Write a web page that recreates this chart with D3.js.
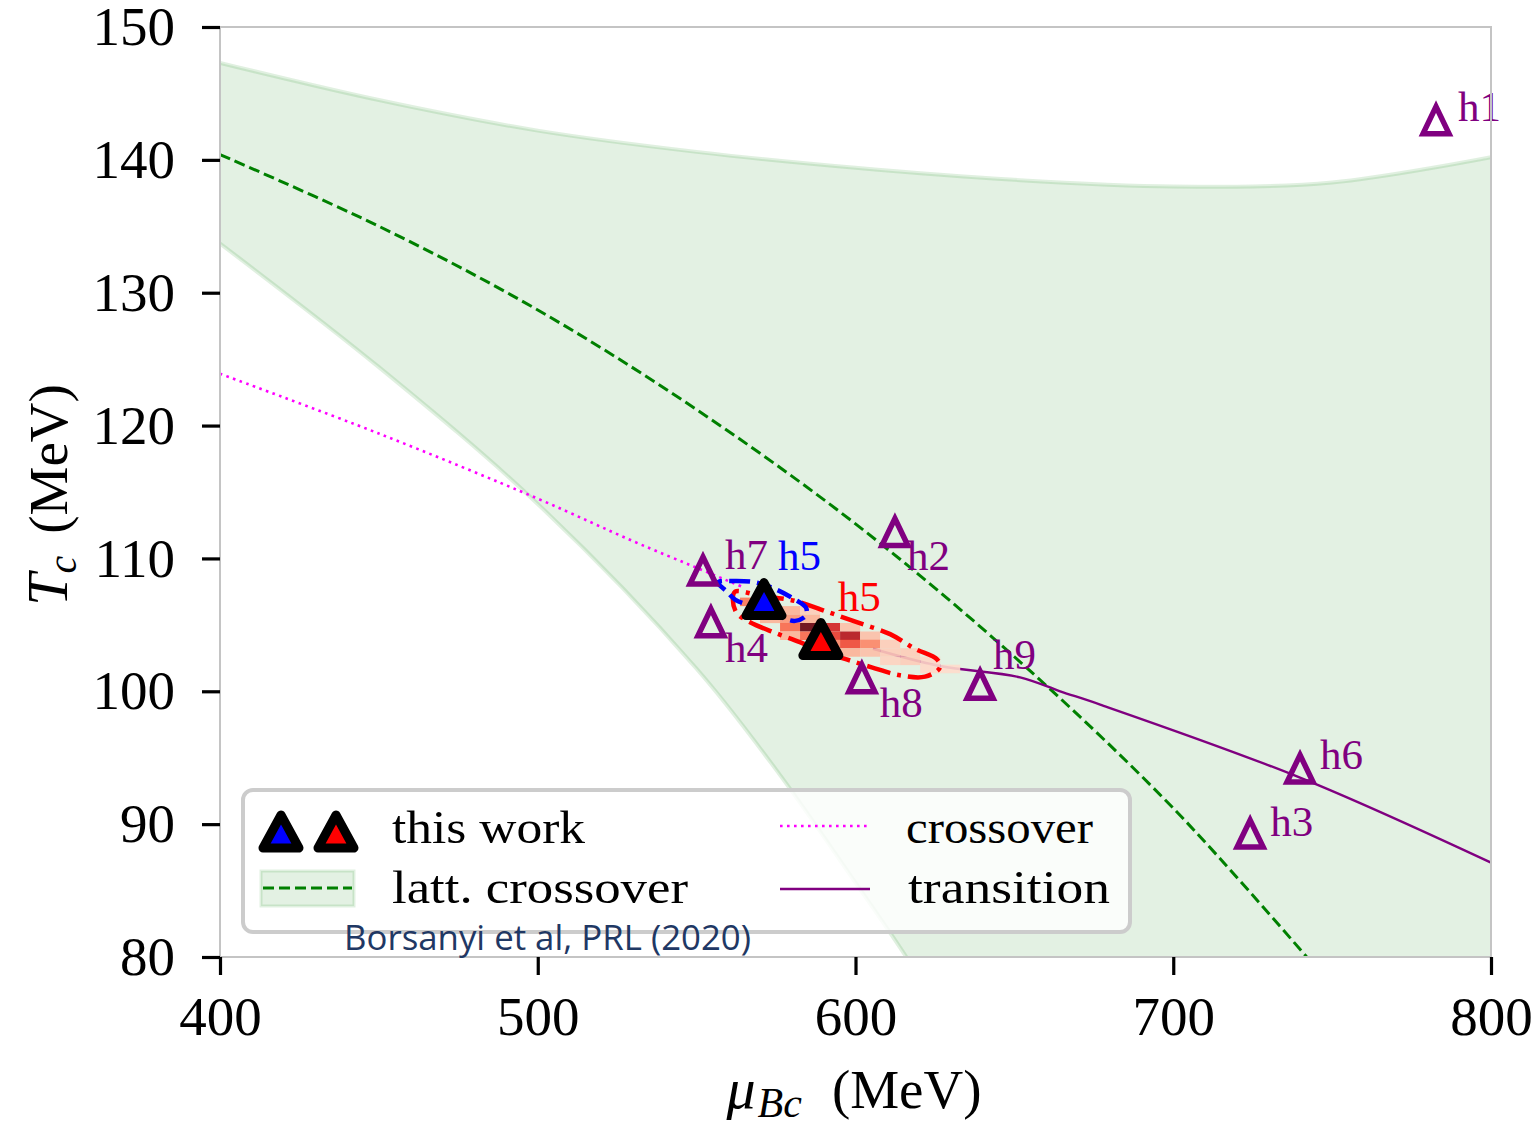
<!DOCTYPE html>
<html>
<head>
<meta charset="utf-8">
<script src="https://cdn.jsdelivr.net/npm/d3@7"></script>
<style>
  html, body { margin: 0; padding: 0; background: #fff; }
  svg { display: block; }
</style>
</head>
<body>
<svg id="chart" width="1539" height="1125"></svg>
<script>
// ---- data -------------------------------------------------------------
// lattice crossover band (upper and lower edges) and its central curve
const bandUpperMu = [400, 450, 500, 550, 600, 650, 700, 750, 800];
const bandUpperT  = [147.3, 144.5, 142.2, 140.6, 139.4, 138.5, 138.0, 138.3, 140.2];
const bandLowerMu = [400, 450, 500, 550, 575, 600, 616, 625];
const bandLowerT  = [133.7, 124.4, 114.1, 101.7, 94.1, 85.6, 80.0, 76.5];
const lattMu = [400, 450, 500, 550, 600, 650, 700, 742];
const lattT  = [140.4, 135.0, 128.7, 121.2, 112.6, 102.6, 91.2, 80.0];

// model crossover (dotted) and first-order transition (solid)
const crossMu = [400, 450, 500, 530, 550, 565];
const crossT  = [123.9, 119.4, 114.5, 111.3, 109.3, 107.8];
const transMu = [605.5, 626.6, 651.8, 664.4, 677, 739.9, 800];
const transT  = [103.2, 101.9, 101.05, 100.0, 99.0, 93.5, 87.1];

// other holographic models
const hNames = ["h1", "h2", "h3", "h4", "h6", "h7", "h8", "h9"];
const hMu    = [782.7, 612.4, 724.2, 554.5, 739.9, 552.0, 602.0, 639.2];
const hT     = [143.1, 112.1, 89.4, 105.3, 94.3, 109.2, 101.1, 100.6];

// this work: two critical points
const workNames  = ["h5", "h5"];
const workMu     = [571.2, 589.1];
const workT      = [106.9, 103.9];
const workColors = ["#0000ff", "#ff0000"];

// confidence contours around the two critical points
const blueContour = [[556.7,108.2],[562.1,108.3],[568.4,108.2],[574.7,107.7],[581.0,106.9],[584.4,106.3],
  [584.4,105.7],[581.0,105.3],[576.2,105.6],[571.5,106.0],[566.2,106.5],[562.1,106.9],[559.5,107.5]];
const redContour = [[562.1,107.5],[569.9,107.2],[581.0,106.8],[590.9,106.0],[600.4,105.2],[610.9,104.3],
  [618.7,103.2],[625.7,102.4],[626.6,101.8],[621.9,101.1],[614.0,101.2],[605.1,101.8],[597.2,102.4],
  [589.3,103.0],[582.5,103.7],[574.7,104.4],[566.8,105.2],[562.6,105.9],[561.4,106.9]];

// 2D density of critical-point samples: [muB, T, relative density]
const heatBinMu = 6.3, heatBinT = 0.64;
const heatCells = [
  [566.8,106.73,0.40],
  [573.1,106.09,0.15],[579.4,106.09,0.20],[585.7,106.09,0.10],
  [573.1,105.45,0.20],[579.4,105.45,0.30],[585.7,105.45,0.20],
  [579.4,104.82,0.45],[585.7,104.82,1.00],[592.0,104.82,0.70],[598.3,104.82,0.15],
  [579.4,104.18,0.20],[585.7,104.18,0.45],[592.0,104.18,0.60],[598.3,104.18,0.80],[604.6,104.18,0.15],
  [592.0,103.56,0.35],[598.3,103.56,0.55],[604.6,103.56,0.35],[610.9,103.56,0.10],
  [598.3,102.92,0.20],[604.6,102.92,0.15],[610.9,102.92,0.10],[617.2,102.92,0.10],
  [610.9,102.29,0.08],[617.2,102.29,0.10],[623.5,102.29,0.06],
  [623.5,101.68,0.05],[629.8,101.68,0.04]
];

const xTicks = [400, 500, 600, 700, 800];
const yTicks = [80, 90, 100, 110, 120, 130, 140, 150];

// ---- layout -----------------------------------------------------------
const serif = "'Liberation Serif', 'Times New Roman', serif";
const purple = "#800080";
const svg = d3.select("#chart");
const x = d3.scaleLinear().domain([400, 800]).range([220, 1491]);
const y = d3.scaleLinear().domain([80, 150]).range([957, 27]);
const zip = (a, b) => a.map((v, i) => [v, b[i]]);
const line = d3.line().x(d => x(d[0])).y(d => y(d[1])).curve(d3.curveCatmullRom.alpha(0.5));

svg.append("defs").append("clipPath").attr("id", "plotClip")
  .append("rect").attr("x", x(400)).attr("y", y(150))
  .attr("width", x(800) - x(400)).attr("height", y(80) - y(150));

const plot = svg.append("g").attr("clip-path", "url(#plotClip)");

// band
const upper = zip(bandUpperMu, bandUpperT);
const lower = zip(bandLowerMu, bandLowerT);
const lowerRev = lower.slice().reverse();
const bandPath = line(upper) + `L${x(800)},${y(bandLowerT[bandLowerT.length - 1])}` +
  line(lowerRev).replace(/^M/, "L") + "Z";
plot.append("path").attr("d", bandPath).attr("fill", "#008000").attr("fill-opacity", 0.11);
[upper, lower].forEach(edge => plot.append("path").attr("d", line(edge))
  .attr("fill", "none").attr("stroke", "#008000").attr("stroke-opacity", 0.12).attr("stroke-width", 4));

// lattice crossover curve
plot.append("path").attr("d", line(zip(lattMu, lattT)))
  .attr("fill", "none").attr("stroke", "#008000").attr("stroke-width", 3)
  .attr("stroke-dasharray", "11,5");

// model crossover & transition
plot.append("path").attr("d", line(zip(crossMu, crossT)))
  .attr("fill", "none").attr("stroke", "#ff00ff").attr("stroke-width", 2.6)
  .attr("stroke-dasharray", "2.6,4.4");
plot.append("path").attr("d", line(zip(transMu, transT)))
  .attr("fill", "none").attr("stroke", purple).attr("stroke-width", 2.4);

// density cells
plot.selectAll("rect.heat").data(heatCells).join("rect").attr("class", "heat")
  .attr("x", d => x(d[0] - heatBinMu / 2))
  .attr("y", d => y(d[1] + heatBinT / 2))
  .attr("width", d => x(d[0] + heatBinMu / 2) - x(d[0] - heatBinMu / 2))
  .attr("height", d => y(d[1] - heatBinT / 2) - y(d[1] + heatBinT / 2))
  .attr("fill", d => d3.interpolateReds(0.1 + 0.9 * d[2]))
  .attr("fill-opacity", 0.9);

// contours
const closed = d3.line().x(d => x(d[0])).y(d => y(d[1])).curve(d3.curveCatmullRomClosed.alpha(0.5));
plot.append("path").attr("d", closed(redContour)).attr("fill", "none")
  .attr("stroke", "#ff0000").attr("stroke-width", 4.5).attr("stroke-dasharray", "24,7,4,7");
plot.append("path").attr("d", closed(blueContour)).attr("fill", "none")
  .attr("stroke", "#0000ff").attr("stroke-width", 4.5).attr("stroke-dasharray", "15,7");

// hollow triangles for other models
const hollowTri = "M0,-12L13,15L-13,15Z";
const filledTri = "M0,-17L18,16L-18,16Z";
svg.selectAll("path.hmark").data(hNames).join("path").attr("class", "hmark")
  .attr("d", hollowTri)
  .attr("transform", (d, i) => `translate(${x(hMu[i])},${y(hT[i])})`)
  .attr("fill", "none").attr("stroke", purple).attr("stroke-width", 5.5)
  .attr("stroke-linejoin", "miter");

// label offsets (px) for each hollow marker
const hLabelOffset = {h1: [22, 2], h2: [12, 39], h3: [20, 4], h4: [14, 41],
                      h6: [20, 2], h7: [22, 0], h8: [18, 40], h9: [13, -14]};
svg.selectAll("text.hlab").data(hNames).join("text").attr("class", "hlab")
  .attr("x", (d, i) => x(hMu[i]) + hLabelOffset[d][0])
  .attr("y", (d, i) => y(hT[i]) + hLabelOffset[d][1])
  .attr("font-family", serif).attr("font-size", 43).attr("fill", purple)
  .text(d => d);

// this-work triangles
svg.selectAll("path.work").data(workMu).join("path").attr("class", "work")
  .attr("d", filledTri)
  .attr("transform", (d, i) => `translate(${x(workMu[i])},${y(workT[i])})`)
  .attr("fill", (d, i) => workColors[i]).attr("stroke", "#000")
  .attr("stroke-width", 9).attr("stroke-linejoin", "round");
const workLabelOffset = [[14, -30], [17, -28]];
svg.selectAll("text.wlab").data(workNames).join("text").attr("class", "wlab")
  .attr("x", (d, i) => x(workMu[i]) + workLabelOffset[i][0])
  .attr("y", (d, i) => y(workT[i]) + workLabelOffset[i][1])
  .attr("font-family", serif).attr("font-size", 43)
  .attr("fill", (d, i) => workColors[i]).text(d => d);

// spines
svg.append("rect").attr("x", x(400)).attr("y", y(150))
  .attr("width", x(800) - x(400)).attr("height", y(80) - y(150))
  .attr("fill", "none").attr("stroke", "#c4c4c4").attr("stroke-width", 2);

// axes
const xAxis = svg.append("g").attr("transform", `translate(0,${y(80)})`)
  .call(d3.axisBottom(x).tickValues(xTicks).tickSize(18).tickPadding(21).tickFormat(d3.format("d")));
const yAxis = svg.append("g").attr("transform", `translate(${x(400)},0)`)
  .call(d3.axisLeft(y).tickValues(yTicks).tickSize(18).tickPadding(27).tickFormat(d3.format("d")));
[xAxis, yAxis].forEach(g => {
  g.select(".domain").remove();
  g.selectAll(".tick line").attr("stroke", "#000").attr("stroke-width", 3.2);
  g.selectAll(".tick text").attr("font-family", serif).attr("font-size", 55).attr("fill", "#000");
});

// axis titles
const xt = svg.append("text").attr("x", 854).attr("y", 1108).attr("text-anchor", "middle")
  .attr("font-family", serif).attr("font-size", 58).attr("fill", "#000");
xt.append("tspan").attr("font-style", "italic").text("μ");
xt.append("tspan").attr("font-style", "italic").attr("font-size", 42).attr("dy", 9).attr("dx", 2).text("Bc");
xt.append("tspan").attr("dy", -9).attr("dx", 30).attr("font-size", 55).text("(MeV)");

const yt = svg.append("text").attr("transform", "translate(67,495) rotate(-90)")
  .attr("text-anchor", "middle").attr("font-family", serif).attr("font-size", 55).attr("fill", "#000");
yt.append("tspan").attr("font-style", "italic").attr("font-size", 58).text("T");
yt.append("tspan").attr("font-style", "italic").attr("font-size", 40).attr("dy", 9).text("c");
yt.append("tspan").attr("dy", -9).attr("dx", 22).text("(MeV)");

// legend
const lg = svg.append("g");
lg.append("rect").attr("x", 243).attr("y", 790).attr("width", 887).attr("height", 142)
  .attr("rx", 10).attr("fill", "#fff").attr("fill-opacity", 0.82)
  .attr("stroke", "#cccccc").attr("stroke-width", 4);
workColors.forEach((c, i) => lg.append("path").attr("d", filledTri)
  .attr("transform", `translate(${281 + 55 * i},832)`)
  .attr("fill", c).attr("stroke", "#000").attr("stroke-width", 9).attr("stroke-linejoin", "round"));
lg.append("rect").attr("x", 261).attr("y", 871).attr("width", 93).attr("height", 35)
  .attr("fill", "#008000").attr("fill-opacity", 0.11)
  .attr("stroke", "#008000").attr("stroke-opacity", 0.12).attr("stroke-width", 3);
lg.append("line").attr("x1", 263).attr("x2", 352).attr("y1", 888).attr("y2", 888)
  .attr("stroke", "#008000").attr("stroke-width", 3).attr("stroke-dasharray", "11,5");
lg.append("line").attr("x1", 780).attr("x2", 868).attr("y1", 826).attr("y2", 826)
  .attr("stroke", "#ff00ff").attr("stroke-width", 2.6).attr("stroke-dasharray", "2.6,4.4");
lg.append("line").attr("x1", 780).attr("x2", 870).attr("y1", 889).attr("y2", 889)
  .attr("stroke", purple).attr("stroke-width", 2.4);
const legendText = [
  ["this work", 392, 843, 193],
  ["latt. crossover", 392, 903, 296],
  ["crossover", 906, 843, 187],
  ["transition", 908, 903, 202]
];
legendText.forEach(([t, lx, ly, w]) => lg.append("text").attr("x", lx).attr("y", ly)
  .attr("font-family", serif).attr("font-size", 46).attr("fill", "#000")
  .attr("textLength", w).attr("lengthAdjust", "spacingAndGlyphs").text(t));

// citation
svg.append("text").attr("x", 344).attr("y", 950)
  .attr("font-family", "'Open Sans', 'Noto Sans', sans-serif").attr("font-size", 35)
  .attr("fill", "#1f3864").attr("textLength", 407).attr("lengthAdjust", "spacingAndGlyphs")
  .text("Borsanyi et al, PRL (2020)");
</script>
</body>
</html>
